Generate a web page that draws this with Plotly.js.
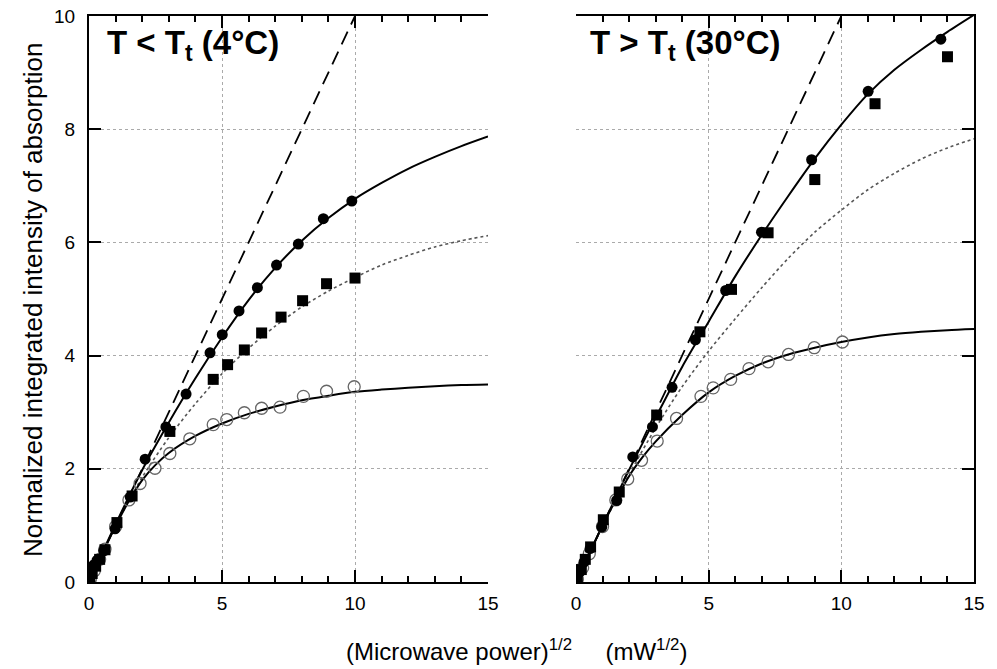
<!DOCTYPE html>
<html>
<head>
<meta charset="utf-8">
<script src="https://cdn.plot.ly/plotly-3.0.1.min.js"></script>
<style>html,body{margin:0;padding:0;background:#fff;}#chart{width:997px;height:669px;}</style>
</head>
<body>
<div id="chart"></div>
<script>
// ---------- Data ----------
// Left panel: T < Tt (4°C)
const L_circ_x = [0.02,0.1,0.18,0.3,0.55,0.98,1.55,2.11,2.89,3.65,4.55,5.01,5.64,6.33,7.05,7.87,8.81,9.88];
const L_circ_y = [0.03,0.2,0.3,0.38,0.55,0.94,1.5,2.17,2.74,3.32,4.05,4.37,4.79,5.20,5.60,5.97,6.42,6.73];
const L_sq_x = [0.03,0.12,0.25,0.4,0.6,1.05,1.62,3.04,4.67,5.21,5.84,6.49,7.22,8.03,8.93,10.0];
const L_sq_y = [0.05,0.15,0.28,0.4,0.57,1.05,1.52,2.66,3.58,3.84,4.10,4.40,4.68,4.97,5.27,5.37];
const L_open_x = [0.05,0.2,0.4,0.6,1.0,1.5,1.92,2.48,3.04,3.79,4.67,5.18,5.84,6.49,7.18,8.06,8.93,9.97];
const L_open_y = [0.05,0.2,0.4,0.58,0.98,1.45,1.74,2.01,2.27,2.53,2.78,2.87,2.99,3.07,3.09,3.28,3.37,3.45];

const fit_x = [0,1,2,3,4,5,6,7,8,9,10,11,12,13,14,15];
const L_fitCirc_y = [0,1.02,1.98,2.82,3.6,4.32,4.98,5.55,6.03,6.43,6.77,7.05,7.3,7.51,7.7,7.87];
const L_fitSq_y   = [0,1.0,1.85,2.55,3.15,3.68,4.13,4.52,4.86,5.14,5.38,5.6,5.77,5.92,6.03,6.12];
const fitOpen_x = [0,0.5,1,1.5,2,2.5,3,4,5,6,7,8,9,10,11,12,13,14,15];
const L_fitOpen_y = [0,0.5,0.99,1.43,1.8,2.07,2.28,2.58,2.8,2.97,3.1,3.21,3.29,3.36,3.4,3.43,3.46,3.48,3.49];

// Right panel: T > Tt (30°C)
const R_circ_x = [0.03,0.15,0.3,0.53,0.97,1.53,2.14,2.88,3.62,4.5,5.64,6.99,8.88,11.01,13.75];
const R_circ_y = [0.03,0.18,0.35,0.59,0.97,1.44,2.21,2.74,3.44,4.28,5.15,6.18,7.46,8.67,9.59];
const R_sq_x = [0.05,0.2,0.35,0.55,1.03,1.63,3.04,4.67,5.86,7.24,9.0,11.27,14.0];
const R_sq_y = [0.05,0.22,0.4,0.62,1.1,1.59,2.95,4.42,5.17,6.17,7.11,8.45,9.28];
const R_open_x = [0.05,0.25,0.5,1.0,1.5,1.95,2.47,3.06,3.79,4.71,5.17,5.83,6.52,7.24,8.01,8.98,10.04];
const R_open_y = [0.05,0.25,0.5,0.98,1.45,1.82,2.15,2.49,2.89,3.28,3.43,3.58,3.77,3.89,4.02,4.14,4.24];

const R_fitCirc_y = [0,1.0,1.98,2.9,3.8,4.6,5.4,6.13,6.82,7.48,8.08,8.62,9.05,9.4,9.72,10.02];
const R_fitDot_y  = [0,0.98,1.9,2.72,3.45,4.08,4.65,5.2,5.72,6.18,6.57,6.93,7.22,7.47,7.67,7.83];
const R_fitOpen_y = [0,0.5,1.0,1.45,1.87,2.2,2.48,2.95,3.35,3.64,3.86,4.02,4.14,4.24,4.32,4.38,4.42,4.45,4.47];

// Linear (unsaturated) reference line
const lin_x = [0,10];
const lin_y = [0,10];

// ---------- Traces ----------
function lineTrace(x,y,xa,ya,dash,width,color){
  return {x:x,y:y,xaxis:xa,yaxis:ya,type:'scatter',mode:'lines',
    line:{color:color,width:width,dash:dash,shape:'spline',smoothing:0.8},hoverinfo:'skip',showlegend:false};
}
function markTrace(x,y,xa,ya,kind){
  let marker;
  if(kind==='circle') marker={symbol:'circle',size:11,color:'#000'};
  else if(kind==='square') marker={symbol:'square',size:11,color:'#000'};
  else marker={symbol:'circle-open',size:12,color:'#666',line:{width:1.3,color:'#666'}};
  return {x:x,y:y,xaxis:xa,yaxis:ya,type:'scatter',mode:'markers',marker:marker,showlegend:false};
}
const DASH = '14px,8px';
const traces = [
  lineTrace(lin_x,lin_y,'x','y',DASH,1.8,'#000'),
  lineTrace(fit_x,L_fitSq_y,'x','y','dot',1.6,'#555'),
  lineTrace(fit_x,L_fitCirc_y,'x','y','solid',2,'#000'),
  lineTrace(fitOpen_x,L_fitOpen_y,'x','y','solid',2,'#000'),
  markTrace(L_open_x,L_open_y,'x','y','open'),
  markTrace(L_sq_x,L_sq_y,'x','y','square'),
  markTrace(L_circ_x,L_circ_y,'x','y','circle'),

  lineTrace(lin_x,lin_y,'x2','y2',DASH,1.8,'#000'),
  lineTrace(fit_x,R_fitDot_y,'x2','y2','dot',1.6,'#555'),
  lineTrace(fit_x,R_fitCirc_y,'x2','y2','solid',2,'#000'),
  lineTrace(fitOpen_x,R_fitOpen_y,'x2','y2','solid',2,'#000'),
  markTrace(R_open_x,R_open_y,'x2','y2','open'),
  markTrace(R_sq_x,R_sq_y,'x2','y2','square'),
  markTrace(R_circ_x,R_circ_y,'x2','y2','circle')
];

// ---------- Layout ----------
const FONT = 'Liberation Sans, Arial, Helvetica, sans-serif';
const W = 997, H = 669;
const yDom = [(H-582)/H, (H-16)/H];
function xAxis(dom, anchor){
  return {domain:dom, anchor:anchor, range:[0,15], tickmode:'linear', dtick:5, tick0:0,
    ticks:'inside', ticklen:12, tickwidth:2, tickcolor:'#000',
    minor:{tickmode:'linear', tick0:0, dtick:1, ticks:'inside', ticklen:6, tickwidth:1.5, tickcolor:'#000', showgrid:false},
    showline:true, linewidth:2, linecolor:'#000', mirror:'ticks',
    showgrid:true, gridcolor:'#aaa', gridwidth:1, griddash:'dot', zeroline:false,
    tickfont:{family:FONT, size:19, color:'#000'}, ticklabelstandoff:3};
}
function yAxis(anchor, side, labels){
  return {domain:yDom, anchor:anchor, side:side, range:[0,10], tickmode:'linear', dtick:2, tick0:0,
    ticks:'inside', ticklen:12, tickwidth:2, tickcolor:'#000',
    showline:true, linewidth:2, linecolor:'#000',
    showgrid:true, gridcolor:'#aaa', gridwidth:1, griddash:'dot', zeroline:false,
    showticklabels:labels, tickfont:{family:FONT, size:19, color:'#000'}, ticklabelstandoff:8};
}
const layout = {
  width:W, height:H, margin:{l:0,r:0,t:0,b:0},
  paper_bgcolor:'#fff', plot_bgcolor:'rgba(0,0,0,0)', showlegend:false,
  font:{family:FONT, color:'#000'},
  xaxis: xAxis([89/W, 488/W], 'y'),
  yaxis: yAxis('x', 'left', true),
  xaxis2: xAxis([576/W, 974/W], 'y2'),
  yaxis2: yAxis('x2', 'right', false),
  annotations:[
    {xref:'paper', yref:'paper', x:105/W, y:1-45/H, xanchor:'left', yanchor:'middle', showarrow:false,
     text:'<b>T &lt; T<sub>t</sub> (4°C)</b>', font:{family:FONT, size:33, color:'#000'}},
    {xref:'paper', yref:'paper', x:588/W, y:1-45/H, xanchor:'left', yanchor:'middle', showarrow:false,
     text:'<b>T &gt; T<sub>t</sub> (30°C)</b>', font:{family:FONT, size:33, color:'#000'}},
    {xref:'paper', yref:'paper', x:33/W, y:1-300/H, xanchor:'center', yanchor:'middle', showarrow:false, textangle:-90,
     text:'Normalized integrated intensity of absorption', font:{family:FONT, size:26, color:'#000'}},
    {xref:'paper', yref:'paper', x:516/W, y:1-650/H, xanchor:'center', yanchor:'middle', showarrow:false,
     text:'(Microwave power)<sup>1/2</sup>&nbsp;&nbsp;&nbsp;&nbsp;&nbsp;(mW<sup>1/2</sup>)', font:{family:FONT, size:24, color:'#000'}}
  ]
};
Plotly.newPlot('chart', traces, layout, {displayModeBar:false});
</script>
</body>
</html>
